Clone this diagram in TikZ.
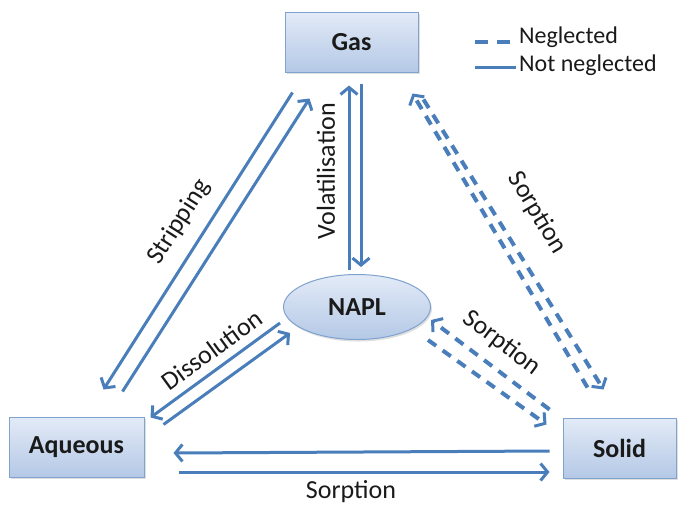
\documentclass[tikz,border=0pt]{standalone}
\usepackage{fontspec}
\setmainfont{Carlito}
\usetikzlibrary{arrows.meta,calc,shapes.geometric,shadows}
\definecolor{arrblue}{HTML}{4A7EBB}
\definecolor{boxtop}{HTML}{E3EBF7}
\definecolor{boxbot}{HTML}{B4C8E6}
\definecolor{boxline}{HTML}{7FA2CF}
\definecolor{txt}{HTML}{1A1A1A}
\tikzset{
  phase/.style={draw=boxline, line width=1pt, top color=boxtop, bottom color=boxbot,
    font=\fontsize{26}{28}\selectfont\bfseries, text=txt,
    drop shadow={shadow xshift=1.5pt, shadow yshift=-2pt, opacity=0.25}},
  phasebox/.style={phase, rectangle, inner sep=0pt},
  phaseell/.style={phase, ellipse, inner sep=0pt},
  arr/.style={draw=arrblue, line width=3pt, -{Straight Barb[length=7pt,width=17pt,line width=3pt]}},
  plain/.style={draw=arrblue, line width=3pt},
  dsh/.style={line width=4pt, dash pattern=on 10pt off 8pt},
  lbl/.style={font=\fontsize{26}{28}\selectfont, text=txt, inner sep=0pt},
  leg/.style={font=\fontsize{24}{26}\selectfont, text=txt, inner sep=0pt, anchor=west}
}
\begin{document}
\begin{tikzpicture}[x=1pt,y=-1pt]
\useasboundingbox (0,0) rectangle (682,507);
\fill[white] (0,0) rectangle (682,507);

% nodes
\node[phasebox, minimum width=133pt, minimum height=60pt] (gas) at (351.5,42) {Gas};
\node[phasebox, minimum width=135pt, minimum height=60pt] (aq) at (76.5,447) {Aqueous};
\node[phasebox, minimum width=113pt, minimum height=60pt] (sol) at (619.5,448) {Solid};
\node[phaseell, minimum width=147pt, minimum height=65pt] (napl) at (357,307) {NAPL};

% legend
\coordinate (l1a) at (475,42);
\coordinate (l1b) at (514,42);
\coordinate (l2a) at (475,67);
\coordinate (l2b) at (516,67);
\draw[plain, line width=4pt, dash pattern=on 13pt off 9pt] (l1a) -- (l1b);
\draw[plain] (l2a) -- (l2b);
\node[leg] (legn) at (519,37) {Neglected};
\node[leg] (legnn) at (519,65) {Not neglected};

% Aqueous <-> Solid (Sorption)
\draw[arr] ($(sol.west)+(-13,3)$) -- ($(aq.east)+(29,6)$);
\draw[arr] ($(aq.east)+(34,25)$) -- ($(sol.west)+(-13,24)$);
\node[lbl] (sorpaq) at (351,492) {Sorption};

% Aqueous <-> Gas (Stripping)
\draw[arr] ($(gas.south west)+(8,20)$) -- ($(aq.north east)+(-41,-27)$);
\draw[arr] ($(aq.north east)+(-22,-25)$) -- ($(gas.south west)+(25,26)$);
\node[lbl, rotate=57.5] (strip) at (179,222) {Stripping};

% Gas <-> NAPL (Volatilisation)
\draw[arr] ($(napl.north)+(-8,-4)$) -- ($(gas.south)+(-2.5,13)$);
\draw[arr] ($(gas.south)+(9.5,11)$) -- ($(napl.north)+(4,-7)$);
\node[lbl, rotate=90] (vol) at (326,171) {Volatilisation};

% Aqueous <-> NAPL (Dissolution)
\draw[arr] ($(napl.west)+(-3,16)$) -- ($(aq.north east)+(6,1)$);
\draw[arr] ($(aq.north east)+(19,8)$) -- ($(napl.west)+(7,26)$);
\node[lbl, rotate=36] (diss) at (212,350) {Dissolution};

% Gas <-> Solid (Sorption, neglected)
\draw[arr, dsh] ($(sol.north)+(-32,-30)$) -- ($(gas.south east)+(-6,21)$);
\draw[arr, dsh] ($(gas.south east)+(5,27)$) -- ($(sol.north)+(-16,-28)$);
\node[lbl, rotate=-59] (sorpgs) at (537,213) {Sorption};

% NAPL <-> Solid (Sorption, neglected)
\draw[arr, dsh] ($(sol.north west)+(-13,-8)$) -- ($(napl.east)+(0,13)$);
\draw[arr, dsh] ($(napl.east)+(-3,33)$) -- ($(sol.north west)+(-16,7)$);
\node[lbl, rotate=-37] (sorpns) at (502,343) {Sorption};
\end{tikzpicture}
\end{document}
